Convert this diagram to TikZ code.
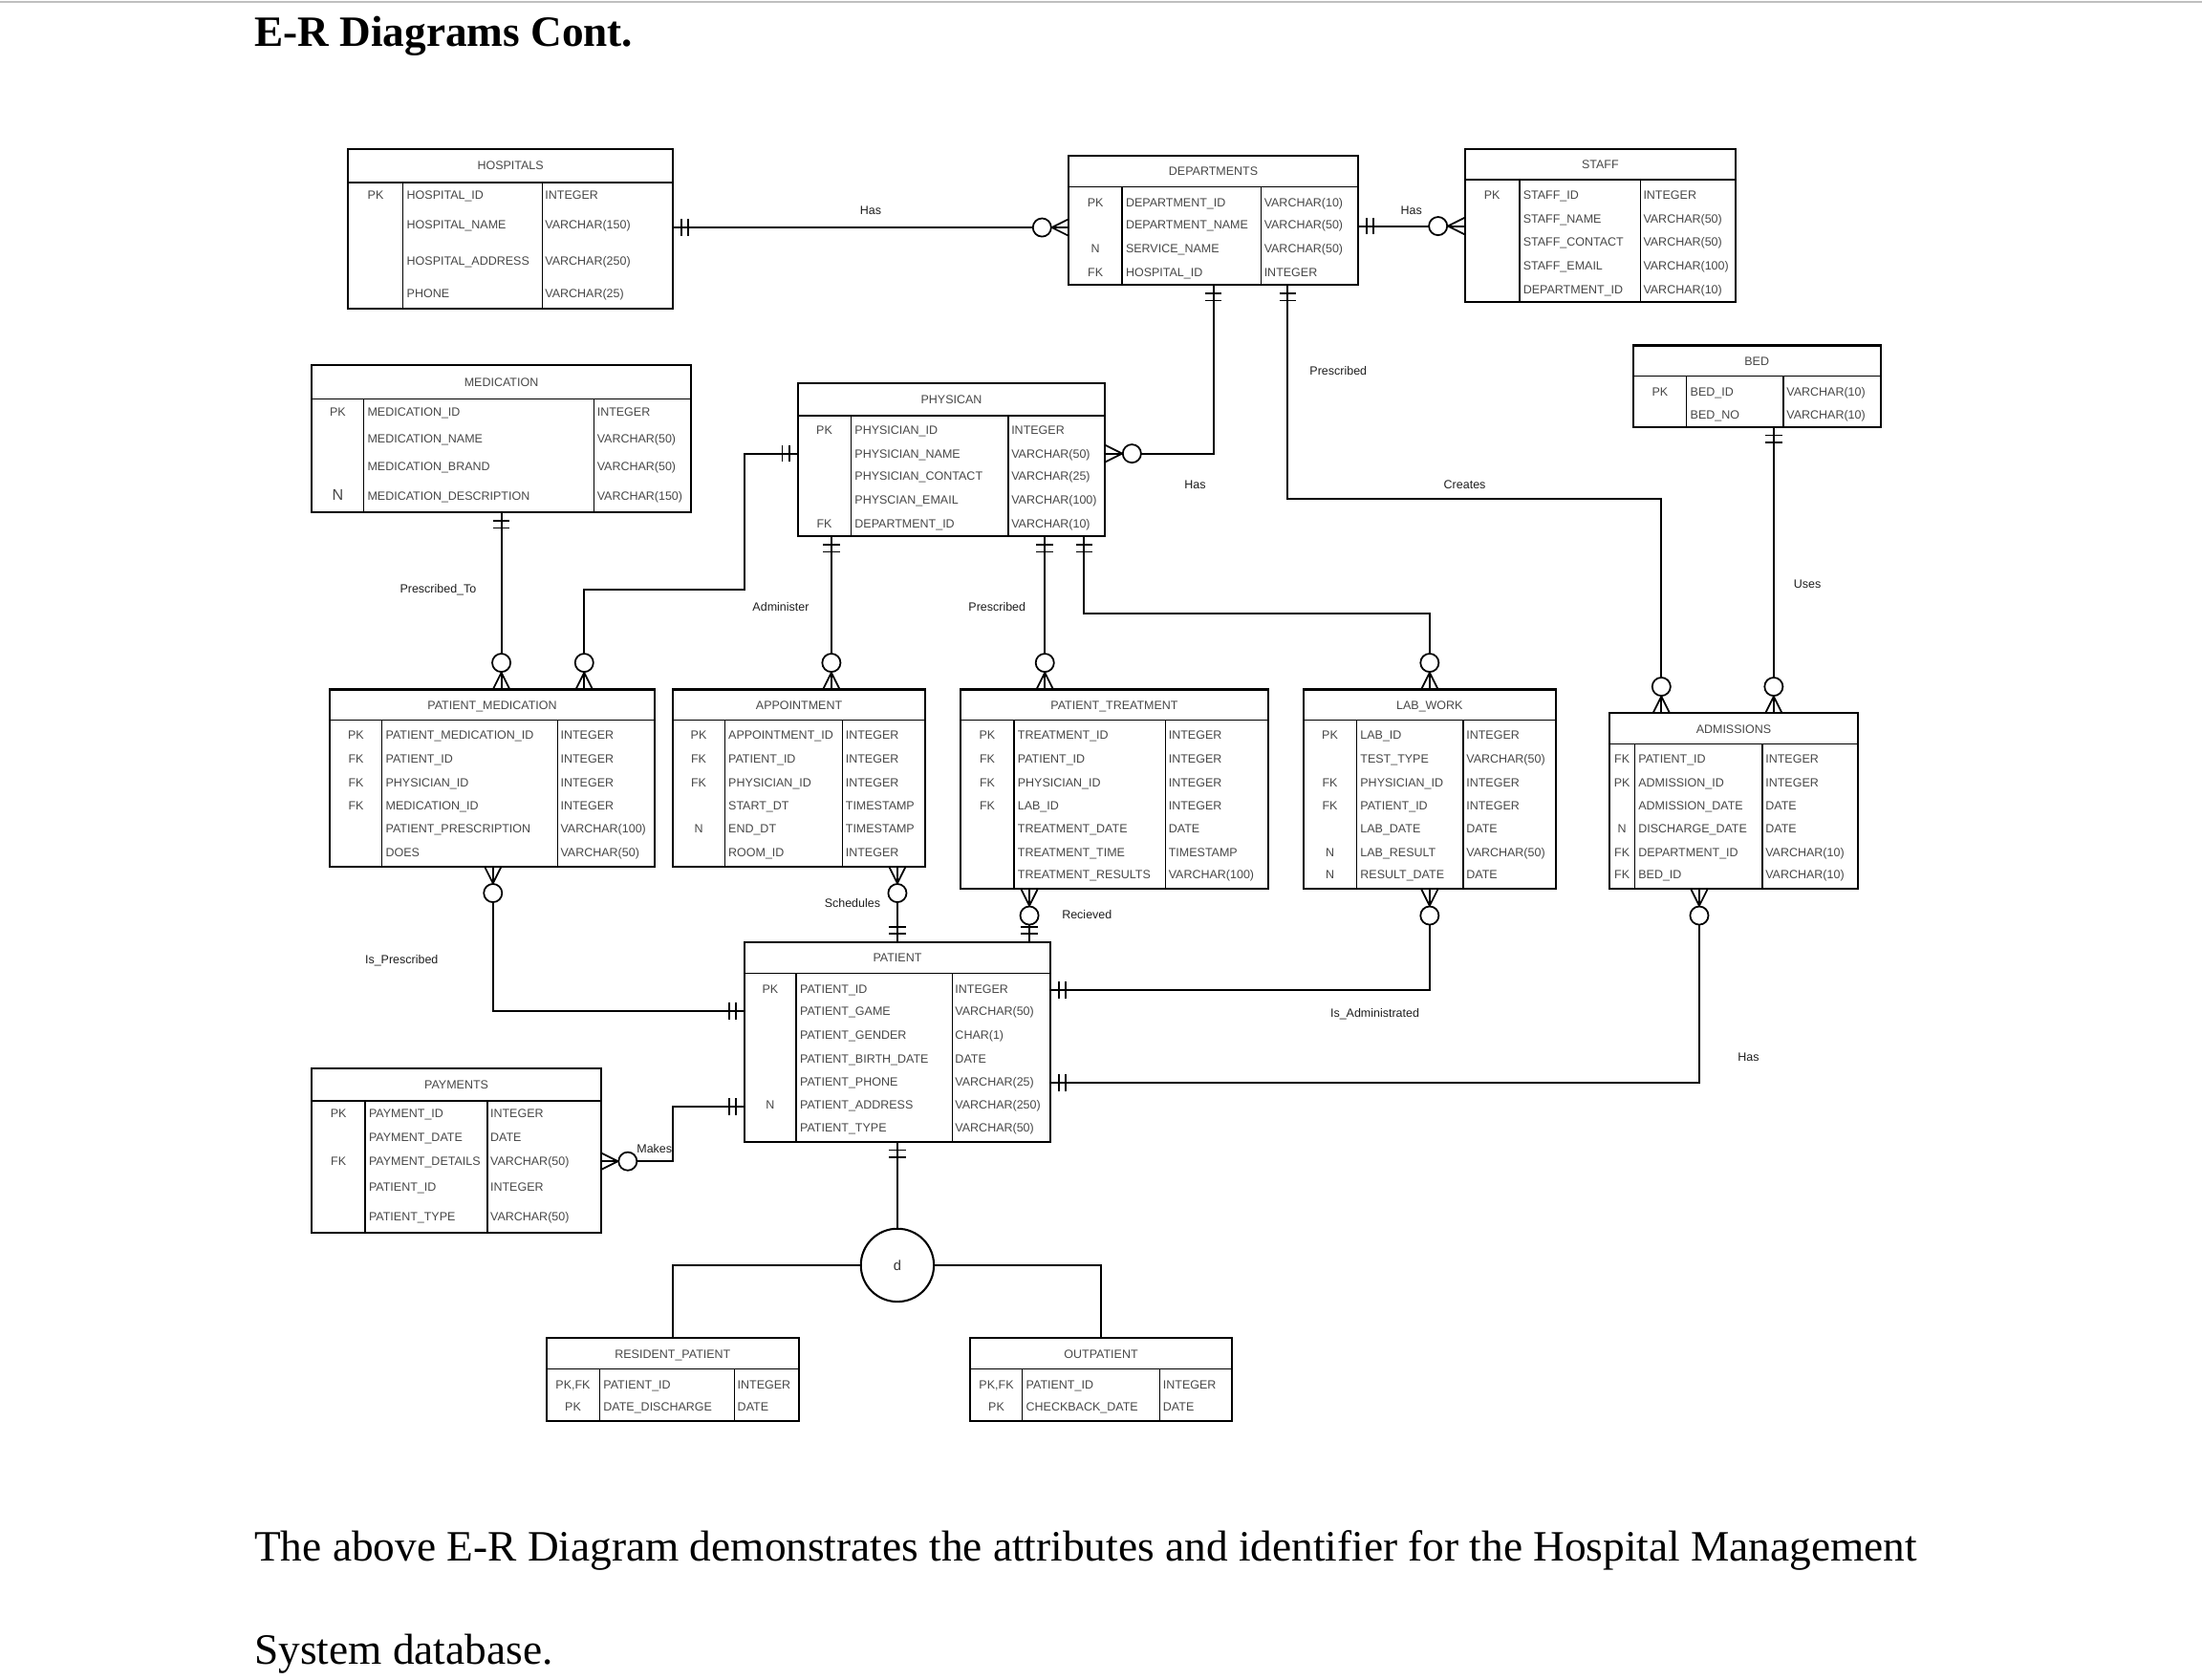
\documentclass[tikz,border=0pt]{standalone}
\usepackage{fontspec}
\setmainfont{Liberation Serif}
\newfontfamily\erfont{Liberation Sans}
\usetikzlibrary{fit}
% table: name, x1, y1, x2, y2, header y, col1 x, col2 x, title
\newcommand\ertable[9]{%
  \node[tbox, fit={(#2,#3) (#4,#5)}] (#1) {};
  \draw[inner] (#2,#6) -- (#4,#6);
  \draw[inner] (#7,#6) -- (#7,#5);
  \draw[inner] (#8,#6) -- (#8,#5);
  \node[ttext] (#1-title) at ({(#2+#4)/2},{(#3+#6)/2}) {#9};
  \def\tabname{#1}\def\tabx{#2}\def\tabc{#7}\def\tabd{#8}}
% row: id, y, key, field, type
\newcommand\errow[5]{%
  \node[ttext] (\tabname-k#1) at ({(\tabx+\tabc)/2},#2) {#3};
  \node[ttext,anchor=west] (\tabname-f#1) at ({\tabc+2.5},#2) {#4};
  \node[ttext,anchor=west] (\tabname-t#1) at ({\tabd+2},#2) {#5};}
% one-and-only-one bars
\newcommand\barsS[2]{\draw[erm] ({#1-6},{#2+6}) -- ({#1+6},{#2+6}) ({#1-6},{#2+11}) -- ({#1+6},{#2+11});}
\newcommand\barsN[2]{\draw[erm] ({#1-6},{#2-6}) -- ({#1+6},{#2-6}) ({#1-6},{#2-11}) -- ({#1+6},{#2-11});}
\newcommand\barsE[2]{\draw[erm] ({#1+6},{#2-6}) -- ({#1+6},{#2+6}) ({#1+11},{#2-6}) -- ({#1+11},{#2+6});}
\newcommand\barsW[2]{\draw[erm] ({#1-6},{#2-6}) -- ({#1-6},{#2+6}) ({#1-11},{#2-6}) -- ({#1-11},{#2+6});}
% zero-or-many crow's feet
\newcommand\crowN[2]{\draw[erm] ({#1-6},#2) -- (#1,{#2-12}) -- ({#1+6},#2); \draw[erm,fill=white] (#1,{#2-19}) circle[radius=6.5pt];}
\newcommand\crowS[2]{\draw[erm] ({#1-6},#2) -- (#1,{#2+12}) -- ({#1+6},#2); \draw[erm,fill=white] (#1,{#2+19}) circle[radius=6.5pt];}
\newcommand\crowE[2]{\draw[erm] (#1,{#2-6}) -- ({#1+12},#2) -- (#1,{#2+6}); \draw[erm,fill=white] ({#1+19},#2) circle[radius=6.5pt];}
\newcommand\crowW[2]{\draw[erm] (#1,{#2-6}) -- ({#1-12},#2) -- (#1,{#2+6}); \draw[erm,fill=white] ({#1-19},#2) circle[radius=6.5pt];}
\begin{document}
\begin{tikzpicture}[x=1pt,y=-1pt,
  tbox/.style={draw, line width=1.4pt, inner sep=0pt},
  inner/.style={line width=0.9pt},
  ttext/.style={inner sep=0pt, font=\erfont\fontsize{8.5}{10}\selectfont, text=black!72, text height=6.2pt, text depth=0pt},
  lbl/.style={inner sep=0pt, font=\erfont\fontsize{8.5}{10}\selectfont, text=black!88},
  conn/.style={line width=1.4pt},
  erm/.style={line width=1.2pt}]
\useasboundingbox (0,0) rectangle (1568,1196.4);
\draw[black!25, line width=1pt] (0,1.5) -- (1568,1.5);
\node[anchor=base west, inner sep=0pt, font=\fontsize{30.8}{36}\selectfont\bfseries] (title) at (181,33) {E-R Diagrams Cont.};
\node[anchor=base west, inner sep=0pt, font=\fontsize{30.85}{38}\selectfont] (body1) at (181,1112) {The above E-R Diagram demonstrates the attributes and identifier for the Hospital Management};
\node[anchor=base west, inner sep=0pt, font=\fontsize{30.85}{38}\selectfont] (body2) at (181,1185) {System database.};

% ---------- connectors ----------
\draw[conn] (479,162) -- (761,162);
\draw[conn] (967,161) -- (1043,161);
\draw[conn] (864,203) |- (787,323);
\draw[conn] (917,203) |- (1183,355) -- (1183,508);
\draw[conn] (1263,304) -- (1263,508);
\draw[conn] (357,365) -- (357,491);
\draw[conn] (568,323) -| (530,420) -| (416,491);
\draw[conn] (592,382) -- (592,491);
\draw[conn] (744,382) -- (744,491);
\draw[conn] (772,382) |- (1018,437) -- (1018,491);
\draw[conn] (351,617) |- (530,720);
\draw[conn] (639,617) -- (639,671);
\draw[conn] (733,633) -- (733,671);
\draw[conn] (1018,633) |- (748,705);
\draw[conn] (1210,633) |- (748,771);
\draw[conn] (428,827) -| (479,788) -- (530,788);

% ---------- tables ----------
\ertable{hosp}{248}{106}{479}{220}{130}{287}{386}{HOSPITALS}
\errow{1}{139}{PK}{HOSPITAL\_ID}{INTEGER}
\errow{2}{160}{}{HOSPITAL\_NAME}{VARCHAR(150)}
\errow{3}{186}{}{HOSPITAL\_ADDRESS}{VARCHAR(250)}
\errow{4}{209}{}{PHONE}{VARCHAR(25)}

\ertable{dept}{761}{111}{967}{203}{133}{799}{898}{DEPARTMENTS}
\errow{1}{144}{PK}{DEPARTMENT\_ID}{VARCHAR(10)}
\errow{2}{160}{}{DEPARTMENT\_NAME}{VARCHAR(50)}
\errow{3}{177}{N}{SERVICE\_NAME}{VARCHAR(50)}
\errow{4}{194}{FK}{HOSPITAL\_ID}{INTEGER}

\ertable{staff}{1043}{106}{1236}{215}{128}{1082}{1168}{STAFF}
\errow{1}{139}{PK}{STAFF\_ID}{INTEGER}
\errow{2}{156}{}{STAFF\_NAME}{VARCHAR(50)}
\errow{3}{172}{}{STAFF\_CONTACT}{VARCHAR(50)}
\errow{4}{189}{}{STAFF\_EMAIL}{VARCHAR(100)}
\errow{5}{206}{}{DEPARTMENT\_ID}{VARCHAR(10)}

\ertable{bed}{1163}{246}{1339}{304}{268}{1201}{1270}{BED}
\errow{1}{279}{PK}{BED\_ID}{VARCHAR(10)}
\errow{2}{295}{}{BED\_NO}{VARCHAR(10)}

\ertable{med}{222}{260}{492}{365}{284}{259}{423}{MEDICATION}
\errow{1}{293}{PK}{MEDICATION\_ID}{INTEGER}
\errow{2}{312}{}{MEDICATION\_NAME}{VARCHAR(50)}
\errow{3}{332}{}{MEDICATION\_BRAND}{VARCHAR(50)}
\errow{4}{353}{{\fontsize{11}{12}\selectfont N}}{MEDICATION\_DESCRIPTION}{VARCHAR(150)}

\ertable{phys}{568}{273}{787}{382}{296}{606}{718}{PHYSICAN}
\errow{1}{306}{PK}{PHYSICIAN\_ID}{INTEGER}
\errow{2}{323}{}{PHYSICIAN\_NAME}{VARCHAR(50)}
\errow{3}{339}{}{PHYSICIAN\_CONTACT}{VARCHAR(25)}
\errow{4}{356}{}{PHYSCIAN\_EMAIL}{VARCHAR(100)}
\errow{5}{373}{FK}{DEPARTMENT\_ID}{VARCHAR(10)}

\ertable{pm}{235}{491}{466}{617}{513}{272}{397}{PATIENT\_MEDICATION}
\errow{1}{523}{PK}{PATIENT\_MEDICATION\_ID}{INTEGER}
\errow{2}{540}{FK}{PATIENT\_ID}{INTEGER}
\errow{3}{557}{FK}{PHYSICIAN\_ID}{INTEGER}
\errow{4}{574}{FK}{MEDICATION\_ID}{INTEGER}
\errow{5}{590}{}{PATIENT\_PRESCRIPTION}{VARCHAR(100)}
\errow{6}{607}{}{DOES}{VARCHAR(50)}

\ertable{appt}{479}{491}{659}{617}{513}{516}{600}{APPOINTMENT}
\errow{1}{523}{PK}{APPOINTMENT\_ID}{INTEGER}
\errow{2}{540}{FK}{PATIENT\_ID}{INTEGER}
\errow{3}{557}{FK}{PHYSICIAN\_ID}{INTEGER}
\errow{4}{574}{}{START\_DT}{TIMESTAMP}
\errow{5}{590}{N}{END\_DT}{TIMESTAMP}
\errow{6}{607}{}{ROOM\_ID}{INTEGER}

\ertable{pt}{684}{491}{903}{633}{513}{722}{830}{PATIENT\_TREATMENT}
\errow{1}{523}{PK}{TREATMENT\_ID}{INTEGER}
\errow{2}{540}{FK}{PATIENT\_ID}{INTEGER}
\errow{3}{557}{FK}{PHYSICIAN\_ID}{INTEGER}
\errow{4}{574}{FK}{LAB\_ID}{INTEGER}
\errow{5}{590}{}{TREATMENT\_DATE}{DATE}
\errow{6}{607}{}{TREATMENT\_TIME}{TIMESTAMP}
\errow{7}{623}{}{TREATMENT\_RESULTS}{VARCHAR(100)}

\ertable{lab}{928}{491}{1108}{633}{513}{966}{1042}{LAB\_WORK}
\errow{1}{523}{PK}{LAB\_ID}{INTEGER}
\errow{2}{540}{}{TEST\_TYPE}{VARCHAR(50)}
\errow{3}{557}{FK}{PHYSICIAN\_ID}{INTEGER}
\errow{4}{574}{FK}{PATIENT\_ID}{INTEGER}
\errow{5}{590}{}{LAB\_DATE}{DATE}
\errow{6}{607}{N}{LAB\_RESULT}{VARCHAR(50)}
\errow{7}{623}{N}{RESULT\_DATE}{DATE}

\ertable{adm}{1146}{508}{1323}{633}{530}{1164}{1255}{ADMISSIONS}
\errow{1}{540}{FK}{PATIENT\_ID}{INTEGER}
\errow{2}{557}{PK}{ADMISSION\_ID}{INTEGER}
\errow{3}{574}{}{ADMISSION\_DATE}{DATE}
\errow{4}{590}{N}{DISCHARGE\_DATE}{DATE}
\errow{5}{607}{FK}{DEPARTMENT\_ID}{VARCHAR(10)}
\errow{6}{623}{FK}{BED\_ID}{VARCHAR(10)}

\ertable{pat}{530}{671}{748}{813}{693}{567}{678}{PATIENT}
\errow{1}{704}{PK}{PATIENT\_ID}{INTEGER}
\errow{2}{720}{}{PATIENT\_GAME}{VARCHAR(50)}
\errow{3}{737}{}{PATIENT\_GENDER}{CHAR(1)}
\errow{4}{754}{}{PATIENT\_BIRTH\_DATE}{DATE}
\errow{5}{770}{}{PATIENT\_PHONE}{VARCHAR(25)}
\errow{6}{787}{N}{PATIENT\_ADDRESS}{VARCHAR(250)}
\errow{7}{803}{}{PATIENT\_TYPE}{VARCHAR(50)}

\ertable{pay}{222}{761}{428}{878}{784}{260}{347}{PAYMENTS}
\errow{1}{793}{PK}{PAYMENT\_ID}{INTEGER}
\errow{2}{810}{}{PAYMENT\_DATE}{DATE}
\errow{3}{827}{FK}{PAYMENT\_DETAILS}{VARCHAR(50)}
\errow{4}{845}{}{PATIENT\_ID}{INTEGER}
\errow{5}{866}{}{PATIENT\_TYPE}{VARCHAR(50)}

\ertable{res}{389}{953}{569}{1012}{975}{427}{523}{RESIDENT\_PATIENT}
\errow{1}{986}{PK,FK}{PATIENT\_ID}{INTEGER}
\errow{2}{1002}{PK}{DATE\_DISCHARGE}{DATE}

\ertable{out}{691}{953}{877}{1012}{975}{728}{826}{OUTPATIENT}
\errow{1}{986}{PK,FK}{PATIENT\_ID}{INTEGER}
\errow{2}{1002}{PK}{CHECKBACK\_DATE}{DATE}

% ---------- disjoint specialisation ----------
\node[draw, line width=1.4pt, circle, minimum size=52pt, inner sep=0pt, fill=white, font=\erfont\fontsize{10}{12}\selectfont, text=black!80] (dcirc) at (639,901) {d};
\draw[conn] (pat.south) -- (dcirc.north);
\draw[conn] (dcirc.west) -| (res.north);
\draw[conn] (dcirc.east) -| (out.north);

% ---------- cardinality marks ----------
\barsE{479}{162}   \crowW{761}{162}
\barsE{967}{161}   \crowW{1043}{161}
\barsS{864}{203}   \crowE{787}{323}
\barsS{917}{203}   \crowN{1183}{508}
\barsS{1263}{304}  \crowN{1263}{508}
\barsS{357}{365}   \crowN{357}{491}
\barsW{568}{323}   \crowN{416}{491}
\barsS{592}{382}   \crowN{592}{491}
\barsS{744}{382}   \crowN{744}{491}
\barsS{772}{382}   \crowN{1018}{491}
\crowS{351}{617}   \barsW{530}{720}
\crowS{639}{617}   \barsN{639}{671}
\crowS{733}{633}   \barsN{733}{671}
\crowS{1018}{633}  \barsE{748}{705}
\crowS{1210}{633}  \barsE{748}{771}
\crowE{428}{827}   \barsW{530}{788}
\barsS{639}{813}

% ---------- relationship labels ----------
\node[lbl] (l1) at (620,150) {Has};
\node[lbl] (l2) at (1005,150) {Has};
\node[lbl] (l3) at (953,264) {Prescribed};
\node[lbl] (l4) at (851,345) {Has};
\node[lbl] (l5) at (1043,345) {Creates};
\node[lbl] (l6) at (1287,416) {Uses};
\node[lbl] (l7) at (312,420) {Prescribed\_To};
\node[lbl] (l8) at (556,432) {Administer};
\node[lbl] (l9) at (710,432) {Prescribed};
\node[lbl] (l10) at (607,643) {Schedules};
\node[lbl] (l11) at (774,651) {Recieved};
\node[lbl] (l12) at (286,684) {Is\_Prescribed};
\node[lbl] (l13) at (979,722) {Is\_Administrated};
\node[lbl] (l14) at (1245,753) {Has};
\node[lbl] (l15) at (466,818) {Makes};
\end{tikzpicture}
\end{document}
